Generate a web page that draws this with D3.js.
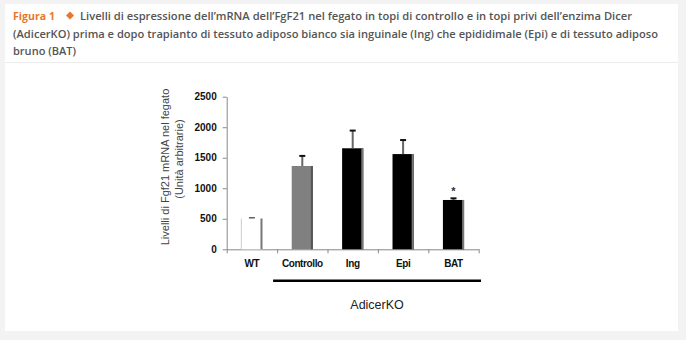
<!DOCTYPE html>
<html><head><meta charset="utf-8">
<script src="https://cdn.jsdelivr.net/npm/d3@7"></script>
<style>html,body{margin:0;padding:0;background:#f3f3f3}</style>
</head><body>
<svg id="c" width="686" height="340"></svg>
<script>
const categories = ["WT", "Controllo", "Ing", "Epi", "BAT"];
const values = [505, 1365, 1655, 1560, 808];
const errors = [10, 165, 290, 230, 27];
const yTicks = [0, 500, 1000, 1500, 2000, 2500];
const significance = ["", "", "", "", "*"];
const groupLabel = "AdicerKO";
const groupMembers = ["Controllo", "Ing", "Epi", "BAT"];
const yTitle = ["Livelli di Fgf21 mRNA nel fegato", "(Unità arbitrarie)"];
const figLabel = "Figura 1";
const captionLines = [
  "Livelli di espressione dell’mRNA dell’FgF21 nel fegato in topi di controllo e in topi privi dell’enzima Dicer",
  "(AdicerKO) prima e dopo trapianto di tessuto adiposo bianco sia inguinale (Ing) che  epididimale (Epi) e di tessuto adiposo",
  "bruno (BAT)"
];

const svg = d3.select("#c");
svg.append("rect").attr("x",0).attr("y",0).attr("width",686).attr("height",340).attr("fill","#f3f3f3");
svg.append("rect").attr("x",5).attr("y",4).attr("width",673).attr("height",327).attr("fill","#fff");
svg.append("line").attr("x1",5).attr("x2",678).attr("y1",62.5).attr("y2",62.5).attr("stroke","#ebebeb").attr("stroke-width",1);

// caption
const capFont = "'Open Sans', 'Noto Sans', sans-serif";
svg.append("text").attr("x",13).attr("y",19.5).attr("font-family",capFont).attr("font-weight",700)
  .attr("font-size",11).attr("fill","#e8772e").attr("textLength",42).attr("lengthAdjust","spacingAndGlyphs").text(figLabel);
svg.append("path").attr("d","M70,11.5 L74,15.5 L70,19.5 L66,15.5 Z").attr("fill","#e8772e");
const capPos = [{x:80,y:19.5,w:552},{x:13,y:37.5,w:645},{x:13,y:55,w:63}];
captionLines.forEach((t,i)=>{
  svg.append("text").attr("x",capPos[i].x).attr("y",capPos[i].y).attr("font-family",capFont)
    .attr("font-weight",600).attr("font-size",11).attr("fill","#555")
    .attr("textLength",capPos[i].w).attr("lengthAdjust","spacingAndGlyphs").text(t);
});

// scales
const y = d3.scaleLinear().domain([0,2500]).range([249.3,96.7]);
const x = d3.scaleBand().domain(categories).range([226.7,478.7]).padding(0);
const bw = x.bandwidth()*0.42;
const axisColor = "#888";
const tickFont = "'Liberation Sans', Arial, sans-serif";

// y axis
const ya = svg.append("g").attr("transform","translate(226.7,0)")
  .call(d3.axisLeft(y).tickValues(yTicks).tickFormat(d3.format("d")).tickSize(4).tickPadding(6).tickSizeOuter(0));
ya.select(".domain").attr("stroke",axisColor);
ya.selectAll(".tick line").attr("stroke",axisColor);
ya.selectAll(".tick text").attr("font-family",tickFont).attr("font-weight",700).attr("font-size",10).attr("fill","#111");

// x axis line + boundary ticks
const xb = d3.scaleLinear().domain([0,categories.length]).range(x.range());
const xa = svg.append("g").attr("transform","translate(0,249.3)")
  .call(d3.axisBottom(xb).ticks(categories.length).tickSize(4).tickFormat("").tickSizeOuter(0));
xa.select(".domain").attr("stroke",axisColor);
xa.selectAll(".tick line").attr("stroke",axisColor);
// category labels
const xl = svg.append("g").attr("transform","translate(0,249.3)")
  .call(d3.axisBottom(x).tickSize(0).tickPadding(11));
xl.select(".domain").remove();
xl.selectAll(".tick text").attr("font-family",tickFont).attr("font-weight",700).attr("font-size",10).attr("fill","#111").attr("letter-spacing",-0.4);

// bars
const fills = ["#ffffff","#808080","#000000","#000000","#000000"];
const edges = ["#777","#555","#777","#777","#777"];
categories.forEach((c,i)=>{
  const cx = x(c)+x.bandwidth()/2;
  const x0 = cx-bw/2, top = y(values[i]), h = y(0)-top;
  svg.append("rect").attr("x",x0).attr("y",top).attr("width",bw).attr("height",h).attr("fill",fills[i]);
  if(i===0){
    svg.append("line").attr("x1",x0).attr("x2",x0).attr("y1",top).attr("y2",y(0)).attr("stroke","#ccc").attr("stroke-width",1);
  }
  svg.append("rect").attr("x",x0+bw-2).attr("y",top).attr("width",2).attr("height",h).attr("fill",edges[i]);
  const et = y(values[i]+errors[i]);
  if(i>0) svg.append("line").attr("x1",cx).attr("x2",cx).attr("y1",top).attr("y2",et).attr("stroke","#666").attr("stroke-width",2);
  svg.append("line").attr("x1",cx-3).attr("x2",cx+3).attr("y1",et).attr("y2",et).attr("stroke","#111").attr("stroke-width",i===0?1:2);
  if(significance[i]) svg.append("text").attr("x",cx).attr("y",et-3).attr("text-anchor","middle")
    .attr("font-family",tickFont).attr("font-weight",700).attr("font-size",11).attr("fill","#333").text(significance[i]);
});

// y title
const yt = svg.append("g").attr("font-family",tickFont).attr("font-size",11).attr("fill","#444").attr("text-anchor","middle");
yt.append("text").attr("transform","translate(168.5,167) rotate(-90)").text(yTitle[0]);
yt.append("text").attr("transform","translate(182.5,159) rotate(-90)").text(yTitle[1]);

// group bracket
const gx0 = x(groupMembers[0]) - 4, gx1 = x(groupMembers[groupMembers.length-1]) + x.bandwidth() + 2.3;
svg.append("line").attr("x1",gx0).attr("x2",gx1).attr("y1",280.7).attr("y2",280.7).attr("stroke","#000").attr("stroke-width",2.5);
svg.append("text").attr("x",(gx0+gx1)/2).attr("y",308.5).attr("text-anchor","middle").attr("font-family",tickFont)
  .attr("font-size",12.5).attr("fill","#222").text(groupLabel);
</script>
</body></html>
